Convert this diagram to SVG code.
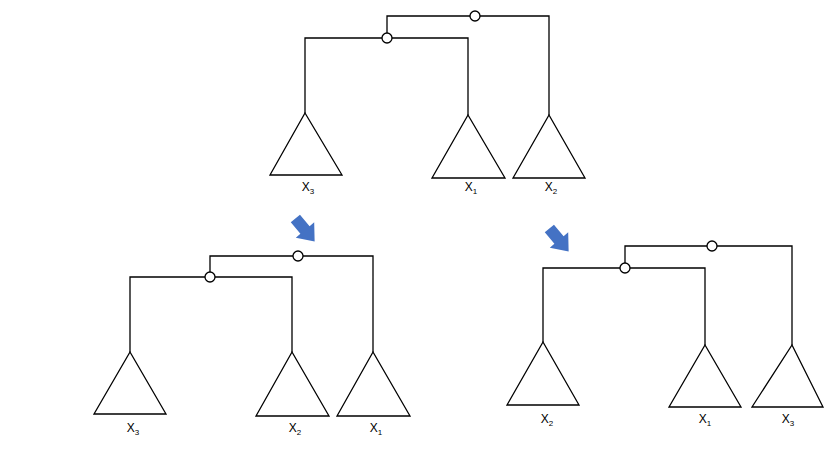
<svg xmlns="http://www.w3.org/2000/svg" width="830" height="467" viewBox="0 0 830 467">
<style>
.l{fill:none;stroke:#000;stroke-width:1.3}
.t{fill:#fff;stroke:#000;stroke-width:1.3}
.c{fill:#fff;stroke:#000;stroke-width:1.3}
.x{font-family:"Liberation Sans",Arial,sans-serif;font-size:12px;fill:#000;text-anchor:middle}
.s{font-size:8px}
.a{fill:#4472C4}
</style>
<defs>
<polygon id="arr" points="-6,-15 6,-15 6,0 12,0 0,15 -12,0 -6,0"/>
</defs>
<rect width="830" height="467" fill="#fff"/>
<g id="connectors">
<path class="l" d="M387,33 V16 H549 V115 M305,113 V38 H468 V115"/>
<path class="l" d="M210,272 V256 H373 V352 M130,352 V277 H292 V352"/>
<path class="l" d="M625,263 V246 H792 V345 M543,342 V268 H705 V345"/>
</g>
<g id="top-tree">
<circle class="c" cx="475" cy="16" r="5"/>
<circle class="c" cx="387" cy="38" r="5"/>
<polygon class="t" points="305,113 342,175 270,175"/>
<polygon class="t" points="468,115 505,178 432,178"/>
<polygon class="t" points="549,115 585,178 513,178"/>
<text class="x" x="308" y="191">X<tspan class="s" dy="3">3</tspan></text>
<text class="x" x="471" y="191">X<tspan class="s" dy="3">1</tspan></text>
<text class="x" x="551" y="191">X<tspan class="s" dy="3">2</tspan></text>
</g>
<g id="left-tree">
<circle class="c" cx="298" cy="256" r="5"/>
<circle class="c" cx="210" cy="277" r="5"/>
<polygon class="t" points="130,352 166,414 94,414"/>
<polygon class="t" points="292,352 329,416 256,416"/>
<polygon class="t" points="373,352 410,416 337,416"/>
<text class="x" x="133" y="432">X<tspan class="s" dy="3">3</tspan></text>
<text class="x" x="295" y="432">X<tspan class="s" dy="3">2</tspan></text>
<text class="x" x="376" y="432">X<tspan class="s" dy="3">1</tspan></text>
</g>
<g id="right-tree">
<circle class="c" cx="712" cy="246" r="5"/>
<circle class="c" cx="625" cy="268" r="5"/>
<polygon class="t" points="543,342 579,405 507,405"/>
<polygon class="t" points="705,345 741,407 669,407"/>
<polygon class="t" points="792,345 823,407 752,407"/>
<text class="x" x="547" y="423">X<tspan class="s" dy="3">2</tspan></text>
<text class="x" x="705" y="423">X<tspan class="s" dy="3">1</tspan></text>
<text class="x" x="788" y="423">X<tspan class="s" dy="3">3</tspan></text>
</g>
<g id="arrows">
<use href="#arr" class="a" transform="translate(305,230) rotate(-40)"/>
<use href="#arr" class="a" transform="translate(559,240) rotate(-40)"/>
</g>
</svg>
